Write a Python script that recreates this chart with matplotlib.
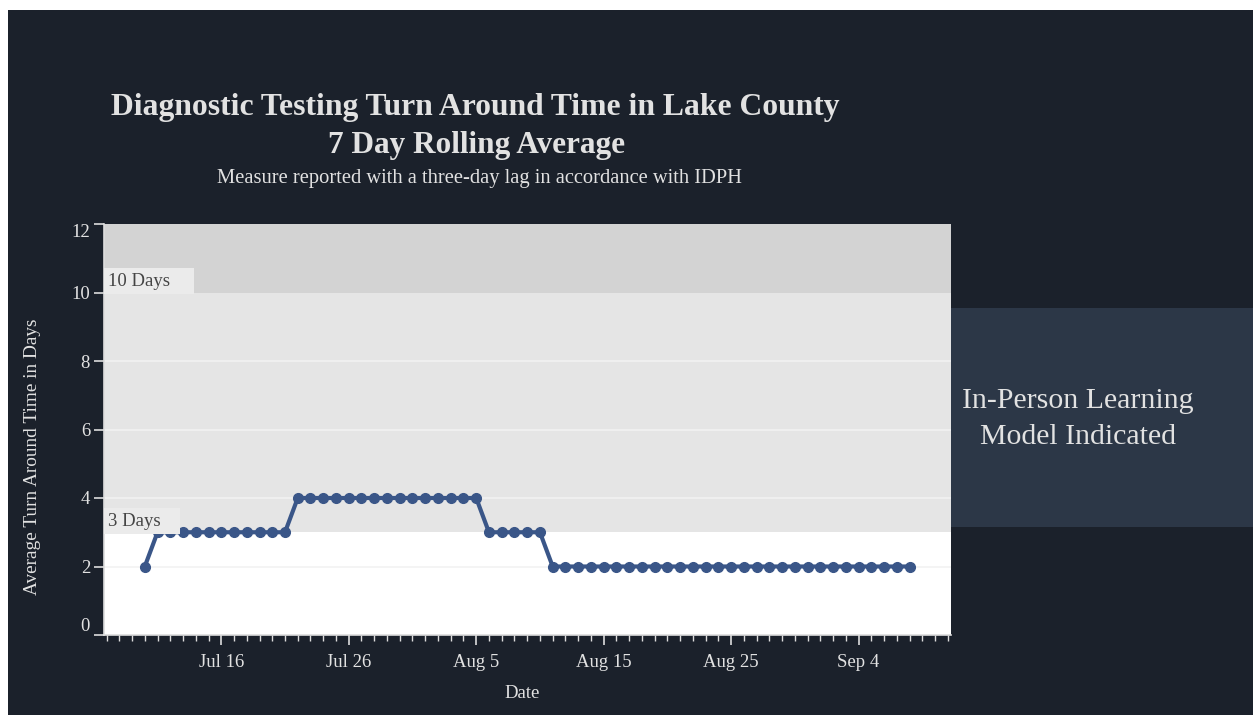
import pandas as pd
import matplotlib
matplotlib.use("Agg")
import matplotlib.pyplot as plt
import matplotlib.dates as mdates
from matplotlib.patches import Rectangle

# daily 7-day rolling average, starting Jul 10 2020
start_date = "2020-07-10"
turnaround_days = [2,
                   3, 3, 3, 3, 3, 3, 3, 3, 3, 3, 3,
                   4, 4, 4, 4, 4, 4, 4, 4, 4, 4, 4, 4, 4, 4, 4,
                   3, 3, 3, 3, 3,
                   2, 2, 2, 2, 2, 2, 2, 2, 2, 2, 2, 2, 2, 2, 2, 2, 2, 2, 2, 2,
                   2, 2, 2, 2, 2, 2, 2, 2, 2]
tick_dates = ["2020-07-16", "2020-07-26", "2020-08-05", "2020-08-15", "2020-08-25", "2020-09-04"]
tick_labels = ["Jul 16", "Jul 26", "Aug 5", "Aug 15", "Aug 25", "Sep 4"]
y_ticks = [0, 2, 4, 6, 8, 10, 12]
bands = [(0, 3, "#ffffff"), (3, 10, "#e5e5e5"), (10, 12, "#d3d3d3")]
band_labels = [(10, "10 Days    "), (3, "3 Days   ")]

dates = pd.date_range(start_date, periods=len(turnaround_days), freq="D")

BG = "#1b212b"
TXT = "#e2e2e2"
SERIF = ["Liberation Serif", "DejaVu Serif"]
plt.rcParams["font.family"] = SERIF

W, H = 1253, 715
fig = plt.figure(figsize=(W / 100, H / 100), dpi=100, facecolor="white")
fig.patches.append(Rectangle((8 / W, 0), 1, (H - 10) / H, transform=fig.transFigure,
                             facecolor=BG, edgecolor="none", zorder=-10))

# right-hand panel
fig.patches.append(Rectangle((951 / W, (H - 527) / H), (W - 951) / W, 219 / H,
                             transform=fig.transFigure, facecolor="#2c3747",
                             edgecolor="none", zorder=-5))
fig.text(1078 / W, 1 - 419 / H, "In-Person Learning\nModel Indicated", color=TXT,
         fontsize=21.5, ha="center", va="center", linespacing=1.45)

ax = fig.add_axes([104 / W, (H - 635) / H, (951 - 104) / W, (635 - 224) / H])

for lo, hi, col in bands:
    ax.axhspan(lo, hi, color=col, zorder=0, lw=0)
for y in [2, 4, 6, 8]:
    ax.axhline(y, color="#f2f2f2", lw=1.2, zorder=1)

ax.plot(dates, turnaround_days, color="#3a5688", lw=3, marker="o", ms=7, zorder=3)

ax.set_ylim(0, 12)
ax.set_xlim(dates[0] - pd.Timedelta(days=3.2), dates[-1] + pd.Timedelta(days=3.25))

for y, txt in band_labels:
    ax.text(0.005, y + 0.08, txt, transform=ax.get_yaxis_transform(), fontsize=13.5,
            color="#444444", va="bottom", ha="left", zorder=4,
            bbox=dict(boxstyle="square,pad=0.25", facecolor="#ebebeb", edgecolor="none"))

ax.set_xticks(pd.to_datetime(tick_dates))
ax.set_xticklabels(tick_labels)
ax.xaxis.set_minor_locator(mdates.DayLocator())
ax.set_yticks(y_ticks)
ax.set_yticklabels([str(v) for v in y_ticks])
ax.tick_params(axis="both", colors="#dddddd", labelcolor=TXT, labelsize=13.5)
ax.tick_params(axis="x", which="major", length=7, width=1.2, pad=7)
ax.tick_params(axis="x", which="minor", length=4, width=1, colors="#dddddd")
ax.tick_params(axis="y", length=7, width=1.2, pad=3)

labels = ax.get_yticklabels()
labels[0].set_verticalalignment("bottom")
labels[-1].set_verticalalignment("top")

for side in ["top", "right"]:
    ax.spines[side].set_visible(False)
for side in ["left", "bottom"]:
    ax.spines[side].set_color("#dddddd")
    ax.spines[side].set_linewidth(1.2)

fig.text(522 / W, 1 - 693 / H, "Date", color=TXT, fontsize=13.5, ha="center", va="center")
fig.text(33 / W, 1 - 457 / H, "Average Turn Around Time in Days", color=TXT, fontsize=13.9,
         ha="center", va="center", rotation=90)

fig.text(475 / W, 1 - 107 / H, "Diagnostic Testing Turn Around Time in Lake County",
         color=TXT, fontsize=22.8, fontweight="bold", ha="center", va="center")
fig.text(476 / W, 1 - 145 / H, "7 Day Rolling Average",
         color=TXT, fontsize=22.5, fontweight="bold", ha="center", va="center")
fig.text(479.5 / W, 1 - 179 / H, "Measure reported with a three-day lag in accordance with IDPH",
         color=TXT, fontsize=14.8, ha="center", va="center")

fig.savefig("out.png", dpi=100, facecolor=fig.get_facecolor())
